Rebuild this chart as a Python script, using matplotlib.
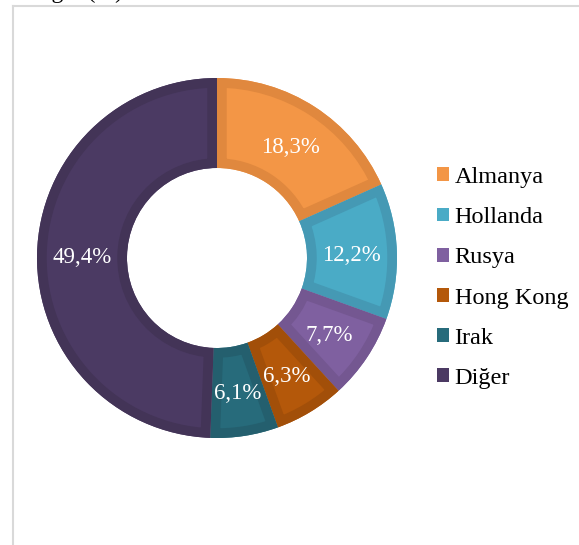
import numpy as np
import matplotlib.pyplot as plt
from matplotlib.lines import Line2D
from matplotlib.patches import Patch, Wedge

W, H = 579, 545

countries = ['Almanya', 'Hollanda', 'Rusya', 'Hong Kong', 'Irak', 'Diğer']
shares = [18.3, 12.2, 7.7, 6.3, 6.1, 49.4]
fill_colors = ['#F39646', '#4AABC6', '#7F60A0', '#B4580A', '#276B7B', '#4B3A63']
edge_colors = ['#E0883E', '#4599B4', '#745791', '#A24F09', '#245F6E', '#433457']

plt.rcParams['font.family'] = ['Liberation Serif', 'DejaVu Serif']

fig = plt.figure(figsize=(W / 100, H / 100), dpi=100)

# donut centre and radius in pixels
cx, cy, R = 217, 258, 180
ax = fig.add_axes([(cx - R) / W, (H - cy - R) / H, 2 * R / W, 2 * R / H])

wedges, _ = ax.pie(shares, colors=fill_colors, startangle=90, counterclock=False,
                   radius=1, wedgeprops=dict(width=0.5, linewidth=0))
for w, ec in zip(wedges, edge_colors):
    # inner stroke: a thick outline clipped to the wedge
    ring = Wedge(w.center, w.r, w.theta1, w.theta2, width=w.width,
                 facecolor='none', edgecolor=ec, linewidth=14)
    ax.add_patch(ring)
    ring.set_clip_path(w)

# percentage labels at mid-ring
ang0 = 90.0
for s in shares:
    mid = np.deg2rad(ang0 - s / 2 * 3.6)
    ax.text(0.75 * np.cos(mid), 0.75 * np.sin(mid), f'{s:.1f}%'.replace('.', ','),
            ha='center', va='center_baseline', color='white', fontsize=16.5)
    ang0 -= s * 3.6

ax.set_xlim(-1, 1)
ax.set_ylim(-1, 1)
ax.axis('off')

handles = [Patch(facecolor=c, edgecolor='none') for c in fill_colors]
fig.legend(handles, countries, loc='center left', bbox_to_anchor=(437 / W, 1 - 278 / H),
           frameon=False, fontsize=17.5, handlelength=0.5, handleheight=0.5,
           handletextpad=0.22, labelspacing=0.79, borderaxespad=0, borderpad=0)

# frame lines
fig.add_artist(Line2D([12.5 / W, 12.5 / W], [0, 1 - 5.5 / H], color='#D9D9D9', lw=1.5))
fig.add_artist(Line2D([12.5 / W, 1], [1 - 5.5 / H, 1 - 5.5 / H], color='#D9D9D9', lw=1.5))

# title, cut off by the top of the picture
fig.text(24 / W, 1 + 8 / H, 'Değer (%)', fontsize=17, va='center', ha='left')

fig.savefig('out.png', dpi=100)
